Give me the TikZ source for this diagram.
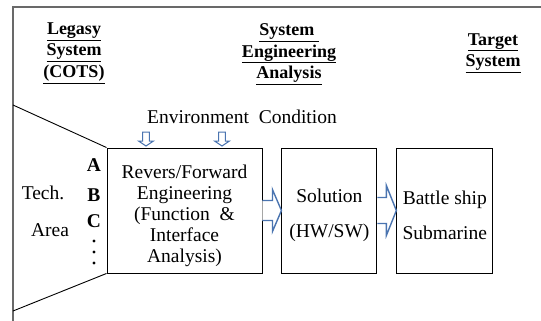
\documentclass[tikz,border=0pt]{standalone}
\usepackage{fontspec}
\setmainfont{Liberation Serif}
\usetikzlibrary{positioning,calc}
\definecolor{arrowblue}{RGB}{74,116,176}
\definecolor{framegray}{RGB}{105,105,105}
\tikzset{box/.style={draw, line width=0.9pt, minimum height=125pt, inner sep=0pt, align=center, font=\fontsize{19.5}{21}\selectfont}}
\tikzset{barrow/.style={draw=arrowblue, fill=white, line width=1.4pt, line join=miter}}
\tikzset{heading/.style={align=center, inner sep=0pt, font=\bfseries\fontsize{18}{21.5}\selectfont}}
\tikzset{plaintext/.style={inner sep=0pt, font=\fontsize{19.5}{21}\selectfont}}
\tikzset{letter/.style={inner sep=0pt, font=\bfseries\fontsize{19.5}{21}\selectfont}}
% hollow block arrow, left to right
\newcommand{\blockarrow}[5]{%
\draw[barrow] ($(#1)+(0,-#3)$) -- ($(#2)+(-#5,-#3)$) -- ($(#2)+(-#5,-#4)$) -- (#2)
 -- ($(#2)+(-#5,#4)$) -- ($(#2)+(-#5,#3)$) -- ($(#1)+(0,#3)$);}
% small hollow arrow, top to bottom
\newcommand{\droparrow}[5]{%
\draw[barrow, line width=1pt] ($(#1)+(-#3,0)$) -- ($(#2)+(-#3,-#5)$) -- ($(#2)+(-#4,-#5)$) -- (#2)
 -- ($(#2)+(#4,-#5)$) -- ($(#2)+(#3,-#5)$) -- ($(#1)+(#3,0)$) -- cycle;}
\newcommand{\lift}{\rule{0pt}{24pt}}

\begin{document}
\begin{tikzpicture}[x=1pt,y=-1pt]
\useasboundingbox (0,0) rectangle (541,321);

\draw[framegray, line width=1.3pt] (13,321) -- (13,7) -- (541,7);

\node[heading] (legacy) at (74,53) {\underline{Legasy}\\\underline{System}\\\underline{(COTS)}};
\node[heading] (sea) at (289,54) {\underline{System\ }\\\underline{Engineering}\\\underline{Analysis}};
\node[heading] (target) at (493,53) {\underline{Target}\\\underline{System}};

\node[plaintext] (env) at (242,117) {Environment\ \ Condition};

\node[box, minimum width=155pt] (rev) at (184.5,210.5) {\lift Revers/Forward\\Engineering\\(Function \ \&\\Interface\\Analysis)};
\node[box, minimum width=95pt, right=19pt of rev] (sol) {\lift Solution\\[14pt](HW/SW)};
\node[box, minimum width=96pt, right=19pt of sol] (tgt) {\lift Battle ship\\[14pt]Submarine};

\coordinate (ltop) at (13,105);
\coordinate (lbot) at (13,311);
\draw[line width=0.9pt] (ltop) -- (rev.north west);
\draw[line width=0.9pt] (lbot) -- (rev.south west);

\node[plaintext] (tech) at (43,193) {Tech.};
\node[plaintext] (area) at (50,230) {Area};
\node[letter] (a) at (94,165) {A};
\node[letter] (b) at (94,195) {B};
\node[letter] (c) at (94,221) {C};
\foreach \y in {241,252,263}
  \fill (94,\y) circle[radius=1.6pt];

\coordinate (d1top) at (146,132);
\coordinate (d1) at (146,146);
\coordinate (d2top) at (222,132);
\coordinate (d2) at (222,146);
\droparrow{d1top}{d1}{3.3}{7.5}{5}
\droparrow{d2top}{d2}{3.3}{7.5}{5}

\blockarrow{rev.east}{sol.west}{10}{21}{9}
\blockarrow{sol.east}{tgt.west}{13}{25}{10}
\end{tikzpicture}
\end{document}
